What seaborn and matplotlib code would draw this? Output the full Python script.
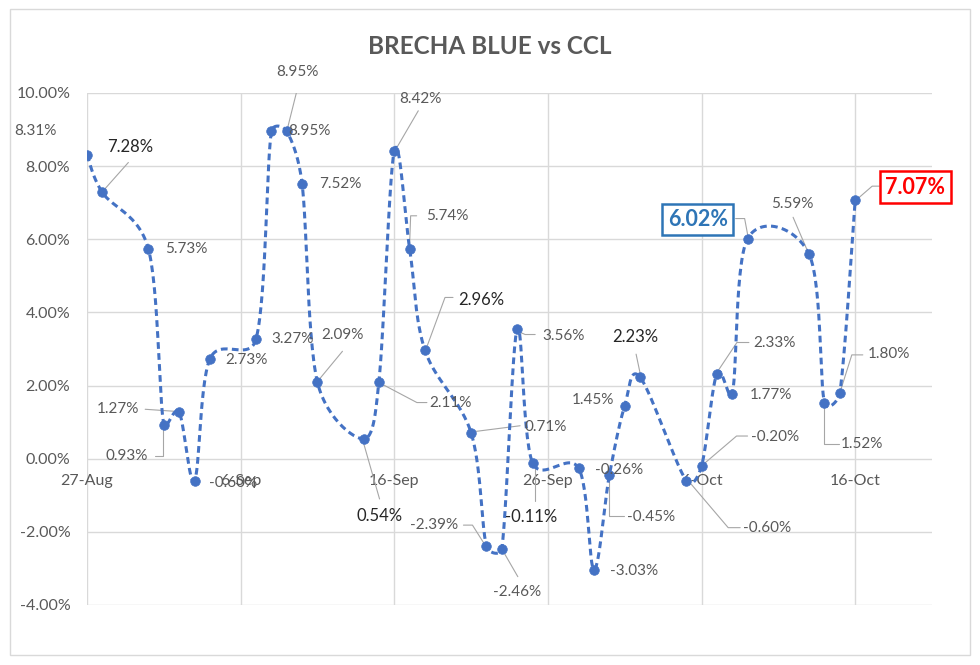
import numpy as np
import pandas as pd
import matplotlib
matplotlib.use('Agg')
import matplotlib.pyplot as plt
from matplotlib.lines import Line2D
from matplotlib.patches import Rectangle
from matplotlib.transforms import IdentityTransform
import matplotlib.dates as mdates
import seaborn as sns

# data (brecha in %)
dates = ['2020-08-27', '2020-08-28', '2020-08-31', '2020-09-01', '2020-09-02', '2020-09-03',
         '2020-09-04', '2020-09-07', '2020-09-08', '2020-09-09', '2020-09-10', '2020-09-11',
         '2020-09-14', '2020-09-15', '2020-09-16', '2020-09-17', '2020-09-18', '2020-09-21',
         '2020-09-22', '2020-09-23', '2020-09-24', '2020-09-25', '2020-09-28', '2020-09-29',
         '2020-09-30', '2020-10-01', '2020-10-02', '2020-10-05', '2020-10-06', '2020-10-07',
         '2020-10-08', '2020-10-09', '2020-10-13', '2020-10-14', '2020-10-15', '2020-10-16']
brecha = [8.31, 7.28, 5.73, 0.93, 1.27, -0.60, 2.73, 3.27, 8.95, 8.95, 7.52, 2.09,
          0.54, 2.11, 8.42, 5.74, 2.96, 0.71, -2.39, -2.46, 3.56, -0.11, -0.26, -3.03,
          -0.45, 1.45, 2.23, -0.60, -0.20, 2.33, 1.77, 6.02, 5.59, 1.52, 1.80, 7.07]
xtick_labels = ['27-Aug', '6-Sep', '16-Sep', '26-Sep', '6-Oct', '16-Oct']
yticks = [-4, -2, 0, 2, 4, 6, 8, 10]

# label placement: offset of label centre from the point, in pixels (y up)
label_offsets = [(-52, 24), (28, 45), (38, 0), (-37, -31), (-61, 3), (39, -2), (37, -1),
                 (37, 0), (38, 0), (11, 59), (38, 0), (25, 47), (16, -77), (72, -21),
                 (26, 52), (38, 33), (56, 50), (75, 6), (-52, 21), (15, -43), (46, -7),
                 (-1, -54), (40, -2), (40, -1), (42, -42), (-32, 6), (-5, 40), (81, -47),
                 (74, 29), (58, 31), (39, -1), (-50, 19), (-17, 50), (38, -41), (49, 39),
                 (60, 13)]
# leader lines (pixel vertices relative to the point)
leaders = {
    0: [(-25, 25), (-9, 25), (-2, 4)],
    1: [(26, 30), (2, 3)],
    3: [(-9, -31), (-1, -31), (-1, -5)],
    4: [(-34, 3), (-5, 1)],
    9: [(11, 44), (1, 4)],
    11: [(25, 31), (1, 2)],
    12: [(16, -60), (0, -4)],
    13: [(2, -2), (38, -21), (48, -21)],
    14: [(24, 40), (3, 4)],
    15: [(7, 33), (1, 33), (0, 5)],
    16: [(28, 53), (20, 53), (2, 4)],
    17: [(2, 1), (49, 7)],
    18: [(-23, 21), (-14, 21), (-2, 2)],
    19: [(16, -28), (1, -2)],
    20: [(1, -3), (8, -6), (18, -6)],
    21: [(2, -38), (2, -5)],
    24: [(0, -5), (0, -41), (15, -41)],
    26: [(-4, 23), (0, 4)],
    27: [(2, 0), (42, -47), (54, -47)],
    28: [(1, 1), (35, 30), (46, 30)],
    29: [(0, 1), (20, 31), (32, 31)],
    31: [(-12, 20), (-3, 20), (0, 4)],
    32: [(-16, 37), (-1, 2)],
    33: [(0, -2), (0, -41), (15, -41)],
    34: [(0, 0), (12, 38), (23, 38)],
    35: [(2, 1), (17, 14), (24, 14)],
}
emphasis = {1, 12, 16, 21, 26}
boxed = {31: '#2E75B6', 35: '#FF0000'}

BLUE = '#4472C4'
GREY = '#595959'

sns.set_style('white')
plt.rcParams['font.family'] = ['Lato', 'DejaVu Sans']

df = pd.DataFrame({'fecha': pd.to_datetime(dates), 'brecha': brecha})
xnum = mdates.date2num(df['fecha'])

fig = plt.figure(figsize=(9.8, 6.65), dpi=100)
ax = fig.add_axes([87 / 980, 1 - 605 / 665, (932 - 87) / 980, (605 - 93) / 665])

x0 = pd.Timestamp('2020-08-27')
ax.set_xlim(mdates.date2num(x0), mdates.date2num(x0 + pd.Timedelta(days=55)))
ax.set_ylim(-4, 10)


def cap(arm, chord):
    # keep the bezier handle shorter than half the segment, like Excel's smoothing
    L = np.hypot(*arm)
    lim = 0.5 * chord
    return arm * (lim / L) if L > lim else arm


# smoothed dashed line through the points, built in pixel space
pts = ax.transData.transform(np.column_stack([xnum, df['brecha']]))
n = len(pts)
t = np.linspace(0, 1, 30)[:, None]
curve = [pts[:1]]
for i in range(n - 1):
    p0 = pts[max(i - 1, 0)]
    p1 = pts[i]
    p2 = pts[i + 1]
    p3 = pts[min(i + 2, n - 1)]
    chord = np.hypot(*(p2 - p1))
    c1 = p1 + cap((p2 - p0) / 6, chord)
    c2 = p2 - cap((p3 - p1) / 6, chord)
    seg = ((1 - t) ** 3) * p1 + 3 * ((1 - t) ** 2) * t * c1 + 3 * (1 - t) * t ** 2 * c2 + t ** 3 * p2
    curve.append(seg[1:])
curve = ax.transData.inverted().transform(np.vstack(curve))
ax.plot(curve[:, 0], curve[:, 1], color=BLUE, lw=2.2, ls=(0, (2.2, 1.4)),
        dash_capstyle='butt', zorder=3)

sns.scatterplot(data=df, x='fecha', y='brecha', s=48, color=BLUE, edgecolor=BLUE,
                linewidth=0.5, zorder=4, ax=ax, legend=False)

# leader lines + data labels
for i, (dx, dy) in enumerate(label_offsets):
    px, py = pts[i]
    if i in leaders:
        vx = [px + a for a, b in leaders[i]]
        vy = [py + b for a, b in leaders[i]]
        ax.add_line(Line2D(vx, vy, transform=IdentityTransform(), color='#a6a6a6',
                           lw=0.8, zorder=2))
    txt = f'{brecha[i]:.2f}%'
    kw = dict(xy=(xnum[i], brecha[i]), xytext=(dx, dy), textcoords='offset pixels',
              ha='center', va='center', zorder=5)
    if i in boxed:
        ax.annotate(txt, fontsize=15.5, fontweight='bold', color=boxed[i],
                    bbox=dict(boxstyle='square,pad=0.25', fc='white', ec=boxed[i], lw=1.8),
                    **kw)
    elif i in emphasis:
        ax.annotate(txt, fontsize=12, color='#262626', **kw)
    else:
        ax.annotate(txt, fontsize=11, color=GREY, **kw)

ax.set_xticks([mdates.date2num(pd.to_datetime(l + '-2020', format='%d-%b-%Y')) for l in xtick_labels])
ax.set_xticklabels(xtick_labels)
ax.set_yticks(yticks)
ax.set_yticklabels([f'{v:.2f}%' for v in yticks])
ax.grid(True, color='#d9d9d9', lw=1)
ax.set_axisbelow(True)
for s in ['top', 'right', 'left']:
    ax.spines[s].set_visible(False)
ax.spines['bottom'].set_position(('data', 0))
ax.spines['bottom'].set_color('none')
ax.tick_params(axis='x', length=0, pad=11, labelsize=11.5, labelcolor=GREY)
ax.tick_params(axis='y', length=0, pad=12, labelsize=11.5, labelcolor=GREY)
ax.set_xlabel('')
ax.set_ylabel('')

fig.text(0.5, 1 - 47 / 665, 'BRECHA BLUE vs CCL', ha='center', va='center',
         fontsize=17.5, fontweight='bold', color=GREY)
fig.patches.append(Rectangle((10 / 980, 1 - 655 / 665), 960 / 980, 646 / 665,
                             transform=fig.transFigure, fill=False, ec='#d9d9d9', lw=1))

fig.savefig('out.png', dpi=100)
